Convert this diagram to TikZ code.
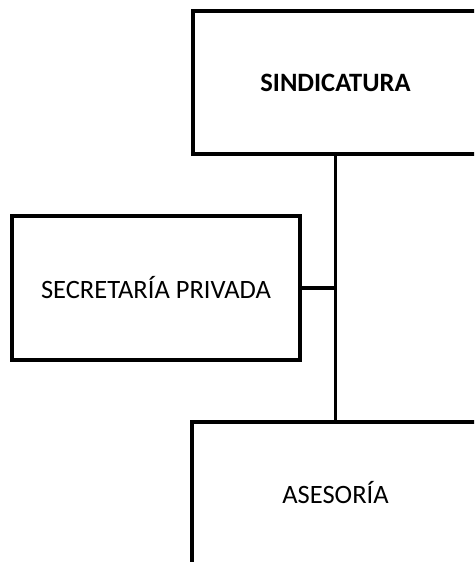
\documentclass[tikz,border=0pt]{standalone}
\usepackage{fontspec}
\setmainfont{Carlito}
\begin{document}
\begin{tikzpicture}[x=1pt,y=-1pt,
  box/.style={draw=black,line width=3.3pt,fill=white,inner sep=0pt,font=\fontsize{26.5}{30}\selectfont},
  conn/.style={draw=black,line width=3.3pt}]
\useasboundingbox (0,0) rectangle (474,562);
\clip (0,0) rectangle (474,562);
\node[box,minimum width=285pt,minimum height=143pt] (sind) at (335.5,82.5) {\bfseries SINDICATURA};
\node[box,minimum width=288pt,minimum height=144pt] (sec) at (156,288) {SECRETARÍA PRIVADA};
\node[box,minimum width=287pt,minimum height=142pt] (ases) at (335.5,493) {ASESORÍA};
\coordinate (j) at (sec.east -| sind.south);
\draw[conn] (sind.south) -- (ases.north);
\draw[conn] (sec.east) -- (j);
\end{tikzpicture}
\end{document}
